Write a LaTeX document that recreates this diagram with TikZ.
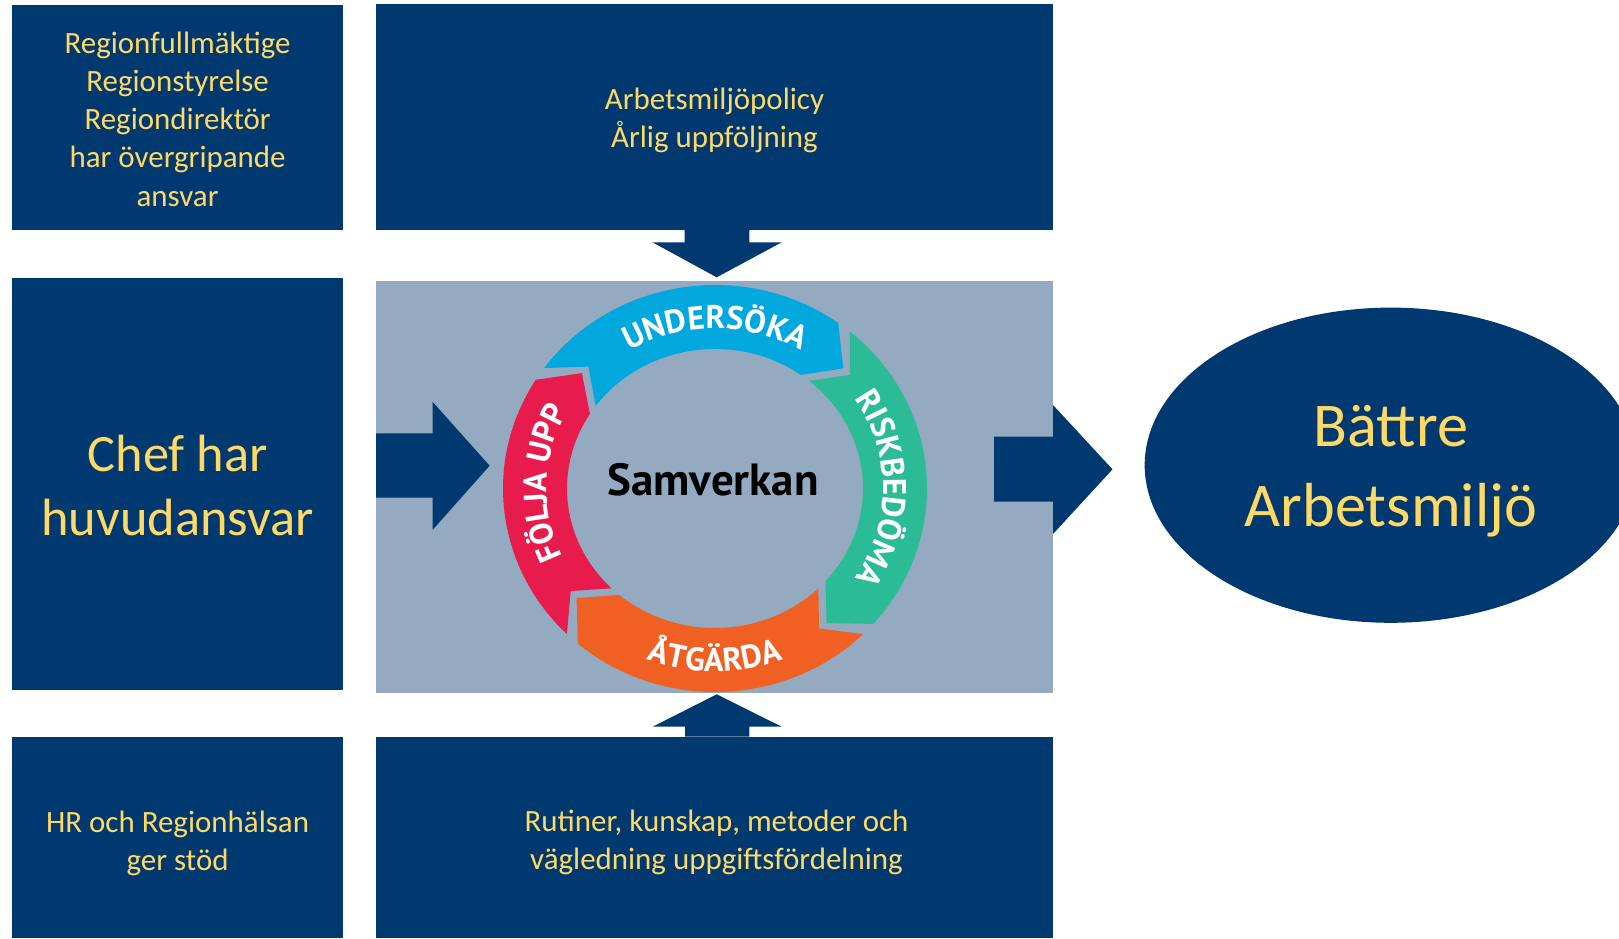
\documentclass[tikz,border=0pt]{standalone}
\usepackage{fontspec}
\setmainfont{Carlito}
\newfontfamily\ringfont{PT Sans}
\usetikzlibrary{shapes}
\usetikzlibrary{decorations.text}
\usepackage{xcolor}
\definecolor{navy}{RGB}{0,57,112}
\definecolor{steel}{RGB}{148,170,193}
\definecolor{gold}{RGB}{255,217,102}
\definecolor{ublue}{RGB}{0,168,222}
\definecolor{rgreen}{RGB}{43,187,151}
\definecolor{aorange}{RGB}{240,96,34}
\definecolor{fred}{RGB}{232,27,77}

\begin{document}
\begin{tikzpicture}[x=0.01cm, y=0.01cm,
    b/.style={rectangle, fill=navy, inner sep=0pt, minimum width=#1},
    t/.style={text=gold, align=center, inner sep=0pt},
    small/.style={t, font=\fontsize{8.8}{10.87}\selectfont},
    arr/.style={fill=navy},
    lbl/.style={decorate, decoration={text along path, text align=center,
        text={|\ringfont\bfseries\fontsize{9.3}{11}\selectfont\color{white}|#1}}}]
        \useasboundingbox (0,0) rectangle (1619,938);
        \clip (0,0) rectangle (1619,938);

        \node[b=3.302cm, minimum height=2.25cm] (gov) at (177.6,820.5) {};
        \node[b=6.77cm, minimum height=2.26cm] (policy) at (714.5,821) {};
        \node[b=3.302cm, minimum height=4.12cm] (chef) at (177.6,454) {};
        \node[b=6.77cm, minimum height=4.117cm, fill=steel] (core) at (714.5,451.2) {};
        \node[b=3.302cm, minimum height=2.013cm] (hr) at (177.6,100.65) {};
        \node[b=6.77cm, minimum height=2.013cm] (rutin) at (714.5,100.65) {};
        \node[ellipse, fill=navy, inner sep=0pt, minimum width=4.92cm, minimum height=3.15cm] (goal) at (1390.8,472.8) {};

        \node[small] (gov-t) at ([yshift=-0.015cm]gov.center) {Regionfullmäktige\\Regionstyrelse\\Regiondirektör\\har övergripande\\ansvar};
        \node[small] (policy-t) at ([yshift=-0.037cm]policy.center) {Arbetsmiljöpolicy\\Årlig uppföljning};
        \node[t, font=\fontsize{14.9}{18.2}\selectfont] (chef-t) at ([yshift=-0.01cm]chef.center) {Chef har\\huvudansvar};
        \node[small] (hr-t) at ([yshift=-0.06cm]hr.center) {HR och Regionhälsan\\ger stöd};
        \node[small] (rutin-t) at ([xshift=0.02cm, yshift=-0.047cm]rutin.center) {Rutiner, kunskap, metoder och\\vägledning uppgiftsfördelning};
        \node[t, font=\fontsize{17.7}{22.6}\selectfont] (goal-t) at ([yshift=-0.06cm]goal.center) {Bättre\\Arbetsmiljö};

        \fill[arr] (684.7,708) -- (684.7,695.7) -- (652.5,695.7) -- (716.7,660.7) -- (781.7,695.7) -- (749.3,695.7) -- (749.3,708) -- cycle;
        \fill[arr] (685,201.3) -- (685,211.3) -- (652.7,211.3) -- (716.7,243.7) -- (781.7,211.3) -- (749.3,211.3) -- (749.3,201.3) -- cycle;
        \fill[arr] (376,440.3) -- (432.5,440.3) -- (432.5,408) -- (489.6,472.3) -- (432.5,536.3) -- (432.5,504.7) -- (376,504.7) -- cycle;
        \fill[arr] (994,436.3) -- (1053,436.3) -- (1053,404) -- (1112.5,468.7) -- (1053,533) -- (1053,501.3) -- (994,501.3) -- cycle;

        \begin{scope}[shift={(715,449.5)}]
        \fill[ublue] (143.7:212 and 203.5) arc[start angle=143.7, end angle=54.5, x radius=212, y radius=203.5] -- (44.5:180 and 171.5) -- (54.5:148 and 139.5) arc[start angle=54.5, end angle=143.7, x radius=148, y radius=139.5] -- (134.7:180 and 171.5) -- cycle;
        \fill[rgreen] (50.5:212 and 203.5) arc[start angle=50.5, end angle=-41.7, x radius=212, y radius=203.5] -- (-51.7:180 and 171.5) -- (-41.7:148 and 139.5) arc[start angle=-41.7, end angle=50.5, x radius=148, y radius=139.5] -- (41.5:180 and 171.5) -- cycle;
        \fill[aorange] (-45.7:212 and 203.5) arc[start angle=-45.7, end angle=-130.3, x radius=212, y radius=203.5] -- (-140.3:180 and 171.5) -- (-130.3:148 and 139.5) arc[start angle=-130.3, end angle=-45.7, x radius=148, y radius=139.5] -- (-54.7:180 and 171.5) -- cycle;
        \fill[fred] (-134.3:212 and 203.5) arc[start angle=-134.3, end angle=-212.3, x radius=212, y radius=203.5] -- (-222.3:180 and 171.5) -- (-212.3:148 and 139.5) arc[start angle=-212.3, end angle=-134.3, x radius=148, y radius=139.5] -- (-143.3:180 and 171.5) -- cycle;

        \path[lbl=UNDERSÖKA] (130:168.5 and 160) arc[start angle=130, end angle=50, x radius=168.5, y radius=160];
        \path[lbl=RISKBEDÖMA] (45:168.5 and 160) arc[start angle=45, end angle=-45, x radius=168.5, y radius=160];
        \path[lbl=ÅTGÄRDA] (225:191.5 and 183) arc[start angle=225, end angle=315, x radius=191.5, y radius=183];
        \path[lbl=FÖLJA UPP] (223:168.5 and 160) arc[start angle=223, end angle=133, x radius=168.5, y radius=160];
        \end{scope}

        \node[font=\ringfont\bfseries\fontsize{12.8}{15}\selectfont] (sam) at (713,458) {Samverkan};
    \end{tikzpicture}
\end{document}
